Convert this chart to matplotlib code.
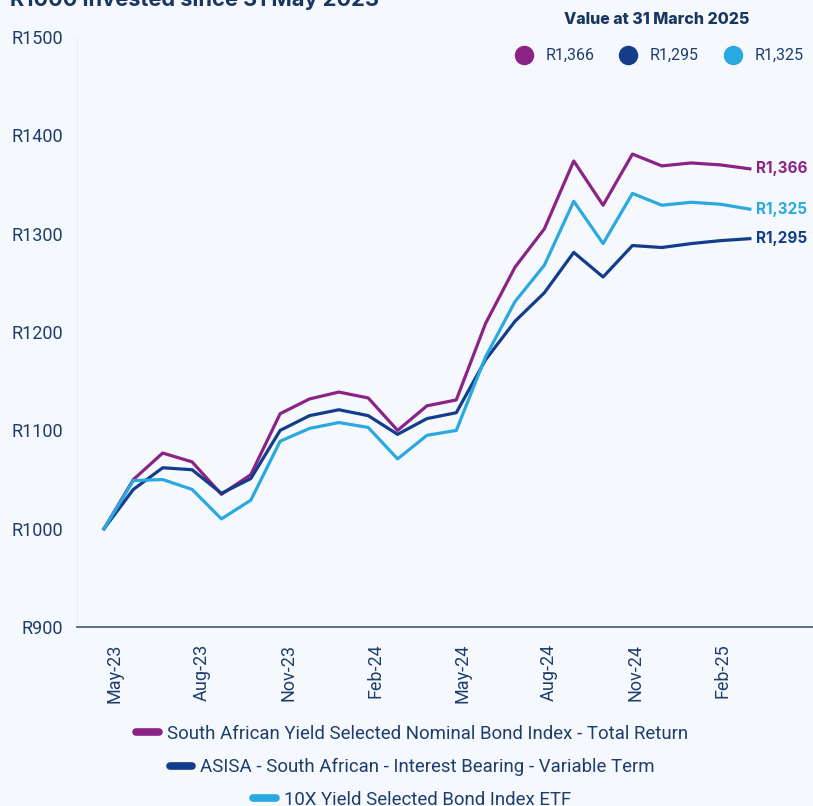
import matplotlib
matplotlib.use("Agg")
from matplotlib import pyplot as plt
from matplotlib.lines import Line2D

months = ["May-23", "Jun-23", "Jul-23", "Aug-23", "Sep-23", "Oct-23", "Nov-23", "Dec-23",
          "Jan-24", "Feb-24", "Mar-24", "Apr-24", "May-24", "Jun-24", "Jul-24", "Aug-24",
          "Sep-24", "Oct-24", "Nov-24", "Dec-24", "Jan-25", "Feb-25", "Mar-25"]

index_tr = [1000, 1050, 1077, 1068, 1035, 1055, 1117, 1132, 1139, 1133, 1100, 1125,
            1131, 1209, 1266, 1305, 1374, 1329, 1381, 1369, 1372, 1370, 1366]
asisa = [1000, 1040, 1062, 1060, 1036, 1051, 1100, 1115, 1121, 1115, 1096, 1112,
         1118, 1172, 1211, 1240, 1281, 1256, 1288, 1286, 1290, 1293, 1295]
etf = [1000, 1049, 1050, 1040, 1010, 1029, 1089, 1102, 1108, 1103, 1071, 1095,
       1100, 1175, 1231, 1268, 1333, 1290, 1341, 1329, 1332, 1330, 1325]

series_names = ["South African Yield Selected Nominal Bond Index - Total Return",
                "ASISA - South African - Interest Bearing - Variable Term",
                "10X Yield Selected Bond Index ETF"]
end_labels = ["R1,366", "R1,295", "R1,325"]
y_ticks = [900, 1000, 1100, 1200, 1300, 1400, 1500]
tick_months = ["May-23", "Aug-23", "Nov-23", "Feb-24", "May-24", "Aug-24", "Nov-24", "Feb-25"]

colors = ["#8B2387", "#133C8B", "#2AA8E0"]
bg = "#F5F9FE"
navy = "#1E3D6B"

fig = plt.figure(figsize=(8.13, 8.06), dpi=100, facecolor=bg)
ax = fig.add_axes([0.0947, 0.222, 0.9053, 0.732])
ax.set_facecolor(bg)

x = list(range(len(months)))
all_series = [index_tr, asisa, etf]
lines = []
for vals, c, name in zip(all_series, colors, series_names):
    ln, = ax.plot(x, vals, color=c, linewidth=2.3, label=name)
    lines.append(ln)

# end labels next to the last point
for vals, c, lab in zip(all_series, colors, end_labels):
    ax.text(x[-1] + 0.2, vals[-1], lab, color=c, fontsize=11, fontweight="bold",
            family="Inter", va="center", ha="left", clip_on=False)

ax.set_xlim(-0.92, 24.15)
ax.set_ylim(900, 1500)
ax.set_yticks(y_ticks)
ax.set_yticklabels([f"R{v}" for v in y_ticks])
# tick labels sit a little right of the month points and drift slightly
tick_pos = [0.37 + 2.957 * k for k in range(len(tick_months))]
ax.set_xticks(tick_pos)
ax.set_xticklabels(tick_months, rotation=90)
ax.tick_params(axis="both", length=0, colors=navy, labelsize=13)
ax.tick_params(axis="x", pad=12)
ax.tick_params(axis="y", pad=10)
for lab in ax.get_xticklabels() + ax.get_yticklabels():
    lab.set_family("Roboto")
for s in ["top", "right"]:
    ax.spines[s].set_visible(False)
ax.spines["left"].set_color("#E9EFF8")
ax.spines["bottom"].set_color("#3A5783")
ax.spines["bottom"].set_linewidth(1.2)

# partially cut-off title at the very top
fig.text(0.012, 1 - 6 / 806, "R1000 invested since 31 May 2023", fontsize=15.7,
         fontweight="bold", family="Inter", color="#18365F", va="baseline", ha="left")

# top-right value legend
fig.text(657 / 813, 1 - 20 / 806, "Value at 31 March 2025", fontsize=11.5,
         fontweight="heavy", family="Inter", color="#18365F", ha="center", va="center")
dot_x = [524, 628, 733]
for dx, c, lab in zip(dot_x, colors, end_labels):
    fig.add_artist(Line2D([dx / 813], [1 - 55 / 806], marker="o", markersize=13,
                          color=c, linestyle="none", transform=fig.transFigure))
    fig.text((dx + 22) / 813, 1 - 55 / 806, lab, fontsize=11.5, family="Roboto",
             color=navy, ha="left", va="center")

# bottom legend, each row centred on its own
row_y = [734, 767, 800]
for ln, ry in zip(lines, row_y):
    h = Line2D([], [], color=ln.get_color(), linewidth=5.5, solid_capstyle="round")
    fig.legend([h], [ln.get_label()], loc="center", bbox_to_anchor=(0.507, 1 - ry / 806),
               frameon=False, handlelength=1.2, handletextpad=0.45,
               labelcolor=navy, prop={"family": "Roboto", "size": 13.4})

fig.savefig("out.png", dpi=100, facecolor=bg)
